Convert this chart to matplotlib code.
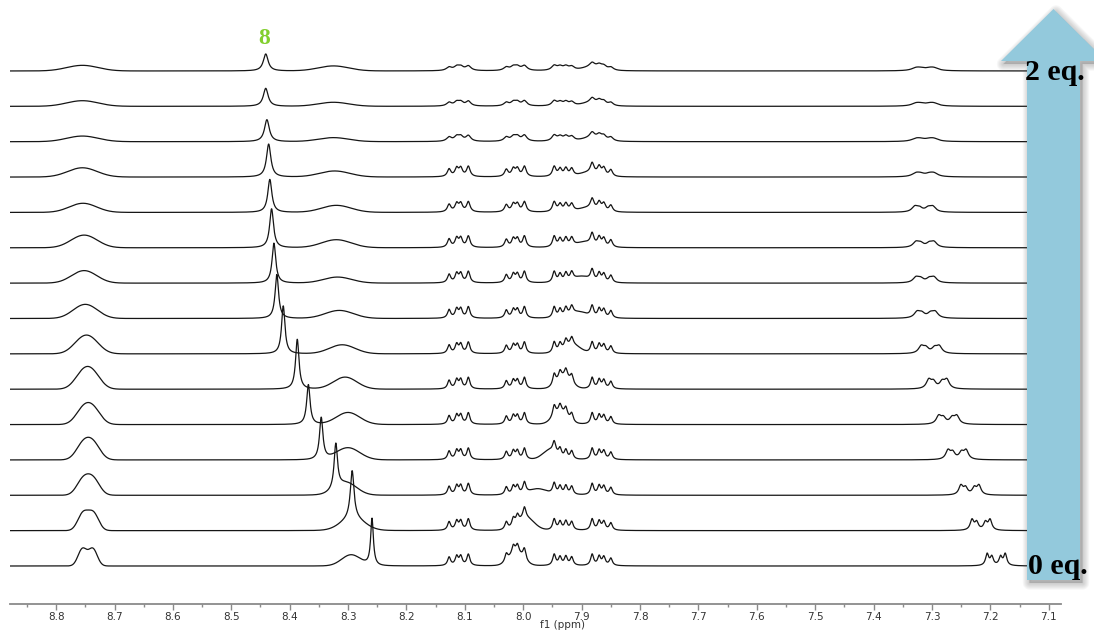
import numpy as np
import matplotlib
matplotlib.use("Agg")
import matplotlib.pyplot as plt
from matplotlib.patches import Polygon
from matplotlib.ticker import MultipleLocator, FormatStrFormatter

# Titration series, listed from the first spectrum (0 eq.) to the last (2 eq.)

# H8: sharp singlet drifting downfield
h8_ppm = [8.259, 8.293, 8.321, 8.346, 8.368, 8.387, 8.411, 8.422, 8.427, 8.431,
          8.434, 8.436, 8.439, 8.441, 8.441]
h8_height = [47, 48, 45, 42, 40, 50, 48, 44, 40, 39, 33, 33, 22, 18, 17]
h8_hwhm = [0.0028, 0.0038, 0.0035, 0.0035, 0.0035, 0.0035, 0.0035, 0.0036, 0.0038,
           0.004, 0.0042, 0.0045, 0.005, 0.005, 0.005]

# broad exchange hump next to H8
hump_ppm = [8.295, 8.292, 8.303, 8.300, 8.300, 8.305, 8.310, 8.315, 8.318, 8.320,
            8.320, 8.323, 8.325, 8.325, 8.325]
hump_height = [11, 12, 12, 12, 12, 12, 9, 8, 6, 8, 7, 6, 4, 4, 5]
hump_sigma = [0.016, 0.02, 0.018, 0.02, 0.02, 0.02, 0.022, 0.024, 0.024, 0.025,
              0.025, 0.026, 0.026, 0.026, 0.026]

# broad doublet near 8.75 ppm
low_ppm = [8.746, 8.745, 8.745, 8.745, 8.745, 8.746, 8.748, 8.750, 8.752, 8.752,
           8.754, 8.755, 8.755, 8.755, 8.755]
low_height = [17, 17, 15, 15, 14, 14, 11, 8, 7, 7, 5, 5, 3, 3, 3]
low_sigma = [0.0075, 0.009, 0.011, 0.012, 0.013, 0.014, 0.016, 0.018, 0.019, 0.02,
             0.021, 0.023, 0.025, 0.025, 0.025]
low_split = 0.018

# aromatic multiplets 7.85-8.13 ppm (line positions and relative intensities)
mult_a_lines = [8.127, 8.114, 8.107, 8.094]
mult_a_rel = [0.75, 0.8, 0.8, 1.0]
mult_b_lines = [8.029, 8.017, 8.010, 7.998]
mult_b_rel = [0.7, 0.75, 0.75, 1.0]
mult_c_lines = [7.947, 7.937, 7.927, 7.917]
mult_c_rel = [1.0, 0.75, 0.8, 0.75]
mult_d_lines = [7.882, 7.870, 7.862, 7.850]
mult_d_rel = [1.0, 0.8, 0.75, 0.65]
mult_height = [12, 12, 12, 12, 12, 12, 12, 12, 12, 12, 11, 11, 7, 6, 6]
mult_hwhm = [0.0031, 0.0031, 0.0031, 0.0031, 0.0031, 0.0031, 0.0032, 0.0032, 0.0033,
             0.0034, 0.0036, 0.0036, 0.005, 0.005, 0.0055]

# broad NH signal crossing the multiplets
nh_ppm = [8.012, 7.995, 7.975, 7.955, 7.937, 7.930, 7.915, 7.905, 7.900, 7.895,
          7.890, 7.888, 7.885, 7.885, 7.885]
nh_height = [12, 12, 6, 9, 11, 11, 8, 6, 6, 5, 4, 4, 3, 3, 3]
nh_sigma = [0.012, 0.014, 0.015, 0.012, 0.012, 0.012, 0.013, 0.014, 0.014, 0.015,
            0.015, 0.015, 0.015, 0.015, 0.015]

# upfield multiplet shifting from 7.19 to 7.31 ppm
up_ppm = [7.190, 7.216, 7.235, 7.257, 7.273, 7.290, 7.303, 7.310, 7.312, 7.312,
          7.314, 7.312, 7.312, 7.312, 7.312]
up_height = [13, 12, 11, 11, 10, 11, 9, 8, 7, 7, 7, 5, 4, 4, 4]
up_hwhm = [0.0032, 0.0037, 0.0042, 0.0047, 0.005, 0.005, 0.0055, 0.006, 0.006, 0.006,
           0.006, 0.008, 0.009, 0.009, 0.009]
up_offsets = [0.0155, 0.0075, -0.0075, -0.0155]
up_rel = [1.0, 0.75, 0.75, 1.0]

eq_labels = ["0 eq.", "2 eq."]
peak_label = "8"

ppm = np.linspace(8.879, 7.079, 5000)


def lorentz(x, x0, h, w):
    return h / (1.0 + ((x - x0) / w) ** 2)


def gauss(x, x0, h, s):
    return h * np.exp(-0.5 * ((x - x0) / s) ** 2)


def multiplet(x, lines, rel, w):
    y = sum(lorentz(x, l, r, w) for l, r in zip(lines, rel))
    return y / y.max()


def spectrum(i):
    y = lorentz(ppm, h8_ppm[i], h8_height[i], h8_hwhm[i])
    y += gauss(ppm, hump_ppm[i], hump_height[i], hump_sigma[i])
    y += gauss(ppm, low_ppm[i] + low_split / 2, low_height[i], low_sigma[i])
    y += gauss(ppm, low_ppm[i] - low_split / 2, low_height[i], low_sigma[i])
    for lines, rel in ((mult_a_lines, mult_a_rel), (mult_b_lines, mult_b_rel),
                       (mult_c_lines, mult_c_rel), (mult_d_lines, mult_d_rel)):
        y += mult_height[i] * multiplet(ppm, lines, rel, mult_hwhm[i])
    y += gauss(ppm, nh_ppm[i], nh_height[i], nh_sigma[i])
    up_lines = [up_ppm[i] + o for o in up_offsets]
    y += up_height[i] * multiplet(ppm, up_lines, up_rel, up_hwhm[i])
    return y


W, H = 1094, 630
fig = plt.figure(figsize=(W / 100, H / 100), dpi=100)
ax = fig.add_axes([10 / W, 26 / H, 1051 / W, 604 / H])

first_base = 38.0
spacing = 35.36
n = len(h8_ppm)
for i in range(n):
    ax.plot(ppm, first_base + spacing * i + spectrum(i), color="#151515",
            lw=0.9, solid_joinstyle="round")

ax.set_xlim(8.879, 7.079)
ax.set_ylim(0, 604)
ax.xaxis.set_major_locator(MultipleLocator(0.1))
ax.xaxis.set_minor_locator(MultipleLocator(0.05))
ax.xaxis.set_major_formatter(FormatStrFormatter("%.1f"))
ax.set_yticks([])
for side in ("top", "left", "right"):
    ax.spines[side].set_visible(False)
ax.spines["bottom"].set_color("#8a8a8a")
ax.spines["bottom"].set_linewidth(1.3)
ax.tick_params(axis="x", which="major", length=4, width=1, color="#8a8a8a",
               labelsize=7.5, labelcolor="#333333", pad=1.5)
ax.tick_params(axis="x", which="minor", length=2.5, width=1, color="#8a8a8a")
ax.set_xlabel("f1 (ppm)", fontsize=7.5, color="#333333", va="bottom")
ax.xaxis.set_label_coords(553 / 1051, -26 / 604)

# label over the H8 singlet of the last spectrum
top = n - 1
ax.annotate(peak_label, (h8_ppm[top], first_base + spacing * top + h8_height[top]),
            xytext=(-1, 3.5), textcoords="offset points", ha="center", va="bottom",
            fontsize=17, fontweight="bold", family="Liberation Serif",
            color="#82cf2e")

# titration arrow drawn in pixel space on an overlay
ov = fig.add_axes([0, 0, 1, 1], zorder=5)
ov.set_xlim(0, W)
ov.set_ylim(H, 0)
ov.axis("off")
arrow = [(1053.5, 9), (1106, 61), (1080, 61), (1080, 580), (1027, 580),
         (1027, 61), (1001, 61)]
for k in range(6, 0, -1):
    shadow = [(x + 2.5, y + 3) for x, y in arrow]
    ov.add_patch(Polygon(shadow, closed=True, facecolor="#555555", alpha=0.05,
                         edgecolor="#555555", lw=k * 1.6, joinstyle="round"))
ov.add_patch(Polygon(arrow, closed=True, facecolor="#93c9dc", edgecolor="none"))

eq_style = dict(fontsize=21.5, fontweight="bold", family="Liberation Serif",
                color="black", ha="left", va="center")
ov.text(1025, 72, eq_labels[1], **eq_style)
ov.text(1028, 566, eq_labels[0], **eq_style)

fig.savefig("out.png", dpi=100)
